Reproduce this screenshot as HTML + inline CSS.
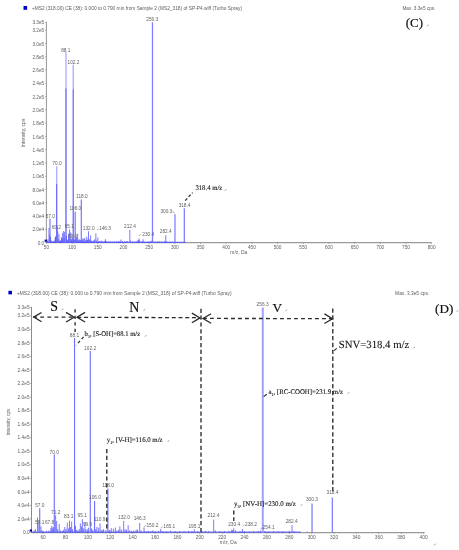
<!DOCTYPE html>
<html><head><meta charset="utf-8"><style>
html,body{margin:0;padding:0;background:#fff;width:459px;height:550px;overflow:hidden}
svg{display:block;will-change:transform}
</style></head><body>
<svg width="459" height="550" viewBox="0 0 459 550">
<rect width="459" height="550" fill="#fff"/>
<rect x="23.5" y="6" width="3.6" height="3.8" fill="#0000cc"/>
<text x="32" y="9.9" font-family="&quot;Liberation Sans&quot;, sans-serif" font-size="4.8" fill="#5e5e5e" textLength="210" lengthAdjust="spacingAndGlyphs">+MS2 (318.00) CE (38): 0.000 to 0.790 min from Sample 2 (MS2_318) of SP-P4.wiff (Turbo Spray)</text>
<text x="402.4" y="10" font-family="&quot;Liberation Sans&quot;, sans-serif" font-size="4.7" fill="#5e5e5e">Max. 3.3e5 cps.</text>
<line x1="46.4" y1="21.8" x2="46.4" y2="243.0" stroke="#8c8c8c" stroke-width="0.9"/>
<line x1="46.4" y1="242.6" x2="431.7" y2="242.6" stroke="#9a9a9a" stroke-width="1.3"/>
<line x1="45.199999999999996" y1="22.25" x2="46.4" y2="22.25" stroke="#777" stroke-width="0.6"/>
<text x="44.199999999999996" y="24.35" font-family="&quot;Liberation Sans&quot;, sans-serif" font-size="4.7" fill="#5e5e5e" text-anchor="end">3.3e5</text>
<line x1="45.199999999999996" y1="30.22" x2="46.4" y2="30.22" stroke="#777" stroke-width="0.6"/>
<text x="44.199999999999996" y="32.32" font-family="&quot;Liberation Sans&quot;, sans-serif" font-size="4.7" fill="#5e5e5e" text-anchor="end">3.2e5</text>
<line x1="45.199999999999996" y1="43.49" x2="46.4" y2="43.49" stroke="#777" stroke-width="0.6"/>
<text x="44.199999999999996" y="45.59" font-family="&quot;Liberation Sans&quot;, sans-serif" font-size="4.7" fill="#5e5e5e" text-anchor="end">3.0e5</text>
<line x1="45.199999999999996" y1="56.76" x2="46.4" y2="56.76" stroke="#777" stroke-width="0.6"/>
<text x="44.199999999999996" y="58.86" font-family="&quot;Liberation Sans&quot;, sans-serif" font-size="4.7" fill="#5e5e5e" text-anchor="end">2.8e5</text>
<line x1="45.199999999999996" y1="70.04" x2="46.4" y2="70.04" stroke="#777" stroke-width="0.6"/>
<text x="44.199999999999996" y="72.14" font-family="&quot;Liberation Sans&quot;, sans-serif" font-size="4.7" fill="#5e5e5e" text-anchor="end">2.6e5</text>
<line x1="45.199999999999996" y1="83.31" x2="46.4" y2="83.31" stroke="#777" stroke-width="0.6"/>
<text x="44.199999999999996" y="85.41" font-family="&quot;Liberation Sans&quot;, sans-serif" font-size="4.7" fill="#5e5e5e" text-anchor="end">2.4e5</text>
<line x1="45.199999999999996" y1="96.59" x2="46.4" y2="96.59" stroke="#777" stroke-width="0.6"/>
<text x="44.199999999999996" y="98.69" font-family="&quot;Liberation Sans&quot;, sans-serif" font-size="4.7" fill="#5e5e5e" text-anchor="end">2.2e5</text>
<line x1="45.199999999999996" y1="109.86" x2="46.4" y2="109.86" stroke="#777" stroke-width="0.6"/>
<text x="44.199999999999996" y="111.96" font-family="&quot;Liberation Sans&quot;, sans-serif" font-size="4.7" fill="#5e5e5e" text-anchor="end">2.0e5</text>
<line x1="45.199999999999996" y1="123.13" x2="46.4" y2="123.13" stroke="#777" stroke-width="0.6"/>
<text x="44.199999999999996" y="125.23" font-family="&quot;Liberation Sans&quot;, sans-serif" font-size="4.7" fill="#5e5e5e" text-anchor="end">1.8e5</text>
<line x1="45.199999999999996" y1="136.41" x2="46.4" y2="136.41" stroke="#777" stroke-width="0.6"/>
<text x="44.199999999999996" y="138.51" font-family="&quot;Liberation Sans&quot;, sans-serif" font-size="4.7" fill="#5e5e5e" text-anchor="end">1.6e5</text>
<line x1="45.199999999999996" y1="149.68" x2="46.4" y2="149.68" stroke="#777" stroke-width="0.6"/>
<text x="44.199999999999996" y="151.78" font-family="&quot;Liberation Sans&quot;, sans-serif" font-size="4.7" fill="#5e5e5e" text-anchor="end">1.4e5</text>
<line x1="45.199999999999996" y1="162.96" x2="46.4" y2="162.96" stroke="#777" stroke-width="0.6"/>
<text x="44.199999999999996" y="165.06" font-family="&quot;Liberation Sans&quot;, sans-serif" font-size="4.7" fill="#5e5e5e" text-anchor="end">1.2e5</text>
<line x1="45.199999999999996" y1="176.23" x2="46.4" y2="176.23" stroke="#777" stroke-width="0.6"/>
<text x="44.199999999999996" y="178.33" font-family="&quot;Liberation Sans&quot;, sans-serif" font-size="4.7" fill="#5e5e5e" text-anchor="end">1.0e5</text>
<line x1="45.199999999999996" y1="189.50" x2="46.4" y2="189.50" stroke="#777" stroke-width="0.6"/>
<text x="44.199999999999996" y="191.60" font-family="&quot;Liberation Sans&quot;, sans-serif" font-size="4.7" fill="#5e5e5e" text-anchor="end">8.0e4</text>
<line x1="45.199999999999996" y1="202.78" x2="46.4" y2="202.78" stroke="#777" stroke-width="0.6"/>
<text x="44.199999999999996" y="204.88" font-family="&quot;Liberation Sans&quot;, sans-serif" font-size="4.7" fill="#5e5e5e" text-anchor="end">6.0e4</text>
<line x1="45.199999999999996" y1="216.05" x2="46.4" y2="216.05" stroke="#777" stroke-width="0.6"/>
<text x="44.199999999999996" y="218.15" font-family="&quot;Liberation Sans&quot;, sans-serif" font-size="4.7" fill="#5e5e5e" text-anchor="end">4.0e4</text>
<line x1="45.199999999999996" y1="229.33" x2="46.4" y2="229.33" stroke="#777" stroke-width="0.6"/>
<text x="44.199999999999996" y="231.43" font-family="&quot;Liberation Sans&quot;, sans-serif" font-size="4.7" fill="#5e5e5e" text-anchor="end">2.0e4</text>
<line x1="45.199999999999996" y1="242.60" x2="46.4" y2="242.60" stroke="#777" stroke-width="0.6"/>
<text x="44.199999999999996" y="244.70" font-family="&quot;Liberation Sans&quot;, sans-serif" font-size="4.7" fill="#5e5e5e" text-anchor="end">0.0</text>
<line x1="46.40" y1="242.6" x2="46.40" y2="243.79999999999998" stroke="#777" stroke-width="0.6"/>
<text x="46.40" y="248.5" font-family="&quot;Liberation Sans&quot;, sans-serif" font-size="4.7" fill="#5e5e5e" text-anchor="middle">50</text>
<line x1="72.09" y1="242.6" x2="72.09" y2="243.79999999999998" stroke="#777" stroke-width="0.6"/>
<text x="72.09" y="248.5" font-family="&quot;Liberation Sans&quot;, sans-serif" font-size="4.7" fill="#5e5e5e" text-anchor="middle">100</text>
<line x1="97.77" y1="242.6" x2="97.77" y2="243.79999999999998" stroke="#777" stroke-width="0.6"/>
<text x="97.77" y="248.5" font-family="&quot;Liberation Sans&quot;, sans-serif" font-size="4.7" fill="#5e5e5e" text-anchor="middle">150</text>
<line x1="123.46" y1="242.6" x2="123.46" y2="243.79999999999998" stroke="#777" stroke-width="0.6"/>
<text x="123.46" y="248.5" font-family="&quot;Liberation Sans&quot;, sans-serif" font-size="4.7" fill="#5e5e5e" text-anchor="middle">200</text>
<line x1="149.14" y1="242.6" x2="149.14" y2="243.79999999999998" stroke="#777" stroke-width="0.6"/>
<text x="149.14" y="248.5" font-family="&quot;Liberation Sans&quot;, sans-serif" font-size="4.7" fill="#5e5e5e" text-anchor="middle">250</text>
<line x1="174.83" y1="242.6" x2="174.83" y2="243.79999999999998" stroke="#777" stroke-width="0.6"/>
<text x="174.83" y="248.5" font-family="&quot;Liberation Sans&quot;, sans-serif" font-size="4.7" fill="#5e5e5e" text-anchor="middle">300</text>
<line x1="200.51" y1="242.6" x2="200.51" y2="243.79999999999998" stroke="#777" stroke-width="0.6"/>
<text x="200.51" y="248.5" font-family="&quot;Liberation Sans&quot;, sans-serif" font-size="4.7" fill="#5e5e5e" text-anchor="middle">350</text>
<line x1="226.20" y1="242.6" x2="226.20" y2="243.79999999999998" stroke="#777" stroke-width="0.6"/>
<text x="226.20" y="248.5" font-family="&quot;Liberation Sans&quot;, sans-serif" font-size="4.7" fill="#5e5e5e" text-anchor="middle">400</text>
<line x1="251.88" y1="242.6" x2="251.88" y2="243.79999999999998" stroke="#777" stroke-width="0.6"/>
<text x="251.88" y="248.5" font-family="&quot;Liberation Sans&quot;, sans-serif" font-size="4.7" fill="#5e5e5e" text-anchor="middle">450</text>
<line x1="277.56" y1="242.6" x2="277.56" y2="243.79999999999998" stroke="#777" stroke-width="0.6"/>
<text x="277.56" y="248.5" font-family="&quot;Liberation Sans&quot;, sans-serif" font-size="4.7" fill="#5e5e5e" text-anchor="middle">500</text>
<line x1="303.25" y1="242.6" x2="303.25" y2="243.79999999999998" stroke="#777" stroke-width="0.6"/>
<text x="303.25" y="248.5" font-family="&quot;Liberation Sans&quot;, sans-serif" font-size="4.7" fill="#5e5e5e" text-anchor="middle">550</text>
<line x1="328.94" y1="242.6" x2="328.94" y2="243.79999999999998" stroke="#777" stroke-width="0.6"/>
<text x="328.94" y="248.5" font-family="&quot;Liberation Sans&quot;, sans-serif" font-size="4.7" fill="#5e5e5e" text-anchor="middle">600</text>
<line x1="354.62" y1="242.6" x2="354.62" y2="243.79999999999998" stroke="#777" stroke-width="0.6"/>
<text x="354.62" y="248.5" font-family="&quot;Liberation Sans&quot;, sans-serif" font-size="4.7" fill="#5e5e5e" text-anchor="middle">650</text>
<line x1="380.31" y1="242.6" x2="380.31" y2="243.79999999999998" stroke="#777" stroke-width="0.6"/>
<text x="380.31" y="248.5" font-family="&quot;Liberation Sans&quot;, sans-serif" font-size="4.7" fill="#5e5e5e" text-anchor="middle">700</text>
<line x1="405.99" y1="242.6" x2="405.99" y2="243.79999999999998" stroke="#777" stroke-width="0.6"/>
<text x="405.99" y="248.5" font-family="&quot;Liberation Sans&quot;, sans-serif" font-size="4.7" fill="#5e5e5e" text-anchor="middle">750</text>
<line x1="431.68" y1="242.6" x2="431.68" y2="243.79999999999998" stroke="#777" stroke-width="0.6"/>
<text x="431.68" y="248.5" font-family="&quot;Liberation Sans&quot;, sans-serif" font-size="4.7" fill="#5e5e5e" text-anchor="middle">800</text>
<text x="238.8" y="253.8" font-family="&quot;Liberation Sans&quot;, sans-serif" font-size="4.9" fill="#5e5e5e" text-anchor="middle">m/z, Da</text>
<text transform="translate(25.2,133) rotate(-90)" font-family="&quot;Liberation Sans&quot;, sans-serif" font-size="5" fill="#5e5e5e" text-anchor="middle">Intensity, cps</text>
<line x1="46.4" y1="242.29999999999998" x2="186" y2="242.29999999999998" stroke="#4848ff" stroke-width="0.9"/>
<line x1="47.43" y1="242.60" x2="47.43" y2="240.61" stroke="#5050ff" stroke-width="0.8"/>
<line x1="47.99" y1="242.60" x2="47.99" y2="239.28" stroke="#5050ff" stroke-width="0.8"/>
<line x1="48.97" y1="242.60" x2="48.97" y2="228.00" stroke="#6b6bff" stroke-width="0.9"/>
<line x1="49.58" y1="242.60" x2="49.58" y2="234.30" stroke="#6b6bff" stroke-width="0.9"/>
<line x1="50.00" y1="242.60" x2="50.00" y2="218.84" stroke="#6b6bff" stroke-width="1.1"/>
<line x1="50.56" y1="242.60" x2="50.56" y2="236.76" stroke="#5050ff" stroke-width="0.8"/>
<line x1="51.02" y1="242.60" x2="51.02" y2="240.28" stroke="#5050ff" stroke-width="0.8"/>
<line x1="51.59" y1="242.60" x2="51.59" y2="241.27" stroke="#5050ff" stroke-width="0.8"/>
<line x1="53.08" y1="242.60" x2="53.08" y2="240.94" stroke="#5050ff" stroke-width="0.8"/>
<line x1="54.16" y1="242.60" x2="54.16" y2="240.61" stroke="#5050ff" stroke-width="0.8"/>
<line x1="55.13" y1="242.60" x2="55.13" y2="237.95" stroke="#5050ff" stroke-width="0.8"/>
<line x1="55.54" y1="242.60" x2="55.54" y2="236.29" stroke="#5050ff" stroke-width="0.8"/>
<line x1="55.95" y1="242.60" x2="55.95" y2="238.62" stroke="#5050ff" stroke-width="0.8"/>
<line x1="56.26" y1="242.60" x2="56.26" y2="237.29" stroke="#5050ff" stroke-width="0.8"/>
<line x1="56.67" y1="184.00" x2="56.67" y2="166.27" stroke="#b0b0ff" stroke-width="1.4"/>
<line x1="56.67" y1="242.60" x2="56.67" y2="184.00" stroke="#7070ff" stroke-width="1.4"/>
<line x1="57.29" y1="242.60" x2="57.29" y2="225.61" stroke="#6b6bff" stroke-width="0.9"/>
<line x1="57.75" y1="242.60" x2="57.75" y2="231.45" stroke="#6b6bff" stroke-width="0.9"/>
<line x1="58.22" y1="242.60" x2="58.22" y2="239.28" stroke="#5050ff" stroke-width="0.8"/>
<line x1="58.93" y1="242.60" x2="58.93" y2="234.30" stroke="#6b6bff" stroke-width="0.9"/>
<line x1="59.50" y1="242.60" x2="59.50" y2="240.61" stroke="#5050ff" stroke-width="0.8"/>
<line x1="60.32" y1="242.60" x2="60.32" y2="240.94" stroke="#5050ff" stroke-width="0.8"/>
<line x1="60.94" y1="242.60" x2="60.94" y2="239.95" stroke="#5050ff" stroke-width="0.8"/>
<line x1="61.50" y1="242.60" x2="61.50" y2="237.29" stroke="#5050ff" stroke-width="0.8"/>
<line x1="62.07" y1="242.60" x2="62.07" y2="239.28" stroke="#5050ff" stroke-width="0.8"/>
<line x1="62.63" y1="242.60" x2="62.63" y2="232.91" stroke="#6b6bff" stroke-width="0.9"/>
<line x1="63.15" y1="242.60" x2="63.15" y2="238.62" stroke="#5050ff" stroke-width="0.8"/>
<line x1="63.66" y1="242.60" x2="63.66" y2="230.99" stroke="#6b6bff" stroke-width="0.9"/>
<line x1="64.12" y1="242.60" x2="64.12" y2="237.29" stroke="#5050ff" stroke-width="0.8"/>
<line x1="64.64" y1="242.60" x2="64.64" y2="231.98" stroke="#6b6bff" stroke-width="0.9"/>
<line x1="65.10" y1="242.60" x2="65.10" y2="239.28" stroke="#5050ff" stroke-width="0.8"/>
<line x1="65.97" y1="88.20" x2="65.97" y2="52.12" stroke="#c4c4ff" stroke-width="1.8"/>
<line x1="65.97" y1="242.60" x2="65.97" y2="88.20" stroke="#8c8cff" stroke-width="1.8"/>
<line x1="66.43" y1="242.60" x2="66.43" y2="235.96" stroke="#5050ff" stroke-width="0.8"/>
<line x1="67.00" y1="242.60" x2="67.00" y2="239.95" stroke="#5050ff" stroke-width="0.8"/>
<line x1="67.56" y1="242.60" x2="67.56" y2="240.61" stroke="#5050ff" stroke-width="0.8"/>
<line x1="68.13" y1="242.60" x2="68.13" y2="239.28" stroke="#5050ff" stroke-width="0.8"/>
<line x1="68.64" y1="242.60" x2="68.64" y2="233.64" stroke="#6b6bff" stroke-width="0.9"/>
<line x1="69.21" y1="242.60" x2="69.21" y2="236.63" stroke="#5050ff" stroke-width="0.8"/>
<line x1="69.57" y1="242.60" x2="69.57" y2="229.46" stroke="#6b6bff" stroke-width="0.9"/>
<line x1="70.13" y1="242.60" x2="70.13" y2="238.62" stroke="#5050ff" stroke-width="0.8"/>
<line x1="70.75" y1="242.60" x2="70.75" y2="232.45" stroke="#6b6bff" stroke-width="0.9"/>
<line x1="71.21" y1="242.60" x2="71.21" y2="239.28" stroke="#5050ff" stroke-width="0.8"/>
<line x1="71.83" y1="242.60" x2="71.83" y2="239.55" stroke="#5050ff" stroke-width="0.8"/>
<line x1="72.34" y1="242.60" x2="72.34" y2="237.95" stroke="#5050ff" stroke-width="0.8"/>
<line x1="73.22" y1="89.20" x2="73.22" y2="64.73" stroke="#a0a0ff" stroke-width="1.2"/>
<line x1="73.22" y1="242.60" x2="73.22" y2="89.20" stroke="#6060ff" stroke-width="1.2"/>
<line x1="73.78" y1="242.60" x2="73.78" y2="238.62" stroke="#5050ff" stroke-width="0.8"/>
<line x1="74.35" y1="242.60" x2="74.35" y2="239.95" stroke="#5050ff" stroke-width="0.8"/>
<line x1="75.17" y1="242.60" x2="75.17" y2="211.80" stroke="#6b6bff" stroke-width="1.1"/>
<line x1="75.73" y1="242.60" x2="75.73" y2="239.28" stroke="#5050ff" stroke-width="0.8"/>
<line x1="76.25" y1="242.60" x2="76.25" y2="237.16" stroke="#5050ff" stroke-width="0.8"/>
<line x1="77.07" y1="242.60" x2="77.07" y2="237.89" stroke="#5050ff" stroke-width="0.8"/>
<line x1="77.68" y1="242.60" x2="77.68" y2="233.64" stroke="#6b6bff" stroke-width="0.9"/>
<line x1="78.25" y1="242.60" x2="78.25" y2="239.95" stroke="#5050ff" stroke-width="0.8"/>
<line x1="78.87" y1="242.60" x2="78.87" y2="240.61" stroke="#5050ff" stroke-width="0.8"/>
<line x1="79.33" y1="242.60" x2="79.33" y2="239.28" stroke="#5050ff" stroke-width="0.8"/>
<line x1="81.28" y1="242.60" x2="81.28" y2="199.39" stroke="#6b6bff" stroke-width="1.1"/>
<line x1="80.41" y1="242.60" x2="80.41" y2="239.95" stroke="#5050ff" stroke-width="0.8"/>
<line x1="81.85" y1="242.60" x2="81.85" y2="240.61" stroke="#5050ff" stroke-width="0.8"/>
<line x1="82.15" y1="242.60" x2="82.15" y2="240.28" stroke="#5050ff" stroke-width="0.8"/>
<line x1="82.82" y1="242.60" x2="82.82" y2="238.35" stroke="#5050ff" stroke-width="0.8"/>
<line x1="83.80" y1="242.60" x2="83.80" y2="238.88" stroke="#5050ff" stroke-width="0.8"/>
<line x1="84.72" y1="242.60" x2="84.72" y2="237.89" stroke="#5050ff" stroke-width="0.8"/>
<line x1="85.44" y1="242.60" x2="85.44" y2="240.61" stroke="#5050ff" stroke-width="0.8"/>
<line x1="86.21" y1="242.60" x2="86.21" y2="239.95" stroke="#5050ff" stroke-width="0.8"/>
<line x1="86.78" y1="242.60" x2="86.78" y2="236.63" stroke="#5050ff" stroke-width="0.8"/>
<line x1="87.50" y1="242.60" x2="87.50" y2="239.75" stroke="#5050ff" stroke-width="0.8"/>
<line x1="88.52" y1="242.60" x2="88.52" y2="231.25" stroke="#6b6bff" stroke-width="0.9"/>
<line x1="89.14" y1="242.60" x2="89.14" y2="239.28" stroke="#5050ff" stroke-width="0.8"/>
<line x1="89.81" y1="242.60" x2="89.81" y2="239.95" stroke="#5050ff" stroke-width="0.8"/>
<line x1="90.58" y1="242.60" x2="90.58" y2="235.37" stroke="#6b6bff" stroke-width="0.9"/>
<line x1="91.25" y1="242.60" x2="91.25" y2="240.61" stroke="#5050ff" stroke-width="0.8"/>
<line x1="92.12" y1="242.60" x2="92.12" y2="240.94" stroke="#5050ff" stroke-width="0.8"/>
<line x1="93.15" y1="242.60" x2="93.15" y2="240.61" stroke="#5050ff" stroke-width="0.8"/>
<line x1="94.23" y1="242.60" x2="94.23" y2="240.28" stroke="#5050ff" stroke-width="0.8"/>
<line x1="94.79" y1="242.60" x2="94.79" y2="239.28" stroke="#5050ff" stroke-width="0.8"/>
<line x1="95.87" y1="242.60" x2="95.87" y2="233.24" stroke="#6b6bff" stroke-width="0.9"/>
<line x1="96.49" y1="242.60" x2="96.49" y2="240.61" stroke="#5050ff" stroke-width="0.8"/>
<line x1="97.87" y1="242.60" x2="97.87" y2="237.49" stroke="#5050ff" stroke-width="0.8"/>
<line x1="98.80" y1="242.60" x2="98.80" y2="241.27" stroke="#5050ff" stroke-width="0.8"/>
<line x1="99.82" y1="242.60" x2="99.82" y2="240.94" stroke="#5050ff" stroke-width="0.8"/>
<line x1="101.01" y1="242.60" x2="101.01" y2="241.27" stroke="#5050ff" stroke-width="0.8"/>
<line x1="101.88" y1="242.60" x2="101.88" y2="240.61" stroke="#5050ff" stroke-width="0.8"/>
<line x1="102.96" y1="242.60" x2="102.96" y2="241.27" stroke="#5050ff" stroke-width="0.8"/>
<line x1="104.45" y1="242.60" x2="104.45" y2="240.94" stroke="#5050ff" stroke-width="0.8"/>
<line x1="105.53" y1="242.60" x2="105.53" y2="239.28" stroke="#5050ff" stroke-width="0.8"/>
<line x1="106.50" y1="242.60" x2="106.50" y2="241.27" stroke="#5050ff" stroke-width="0.8"/>
<line x1="108.04" y1="242.60" x2="108.04" y2="241.27" stroke="#5050ff" stroke-width="0.8"/>
<line x1="110.10" y1="242.60" x2="110.10" y2="240.94" stroke="#5050ff" stroke-width="0.8"/>
<line x1="112.15" y1="242.60" x2="112.15" y2="241.27" stroke="#5050ff" stroke-width="0.8"/>
<line x1="114.21" y1="242.60" x2="114.21" y2="241.27" stroke="#5050ff" stroke-width="0.8"/>
<line x1="116.26" y1="242.60" x2="116.26" y2="241.27" stroke="#5050ff" stroke-width="0.8"/>
<line x1="118.32" y1="242.60" x2="118.32" y2="240.94" stroke="#5050ff" stroke-width="0.8"/>
<line x1="119.86" y1="242.60" x2="119.86" y2="241.27" stroke="#5050ff" stroke-width="0.8"/>
<line x1="120.94" y1="242.60" x2="120.94" y2="239.61" stroke="#5050ff" stroke-width="0.8"/>
<line x1="122.43" y1="242.60" x2="122.43" y2="241.27" stroke="#5050ff" stroke-width="0.8"/>
<line x1="124.48" y1="242.60" x2="124.48" y2="241.27" stroke="#5050ff" stroke-width="0.8"/>
<line x1="126.02" y1="242.60" x2="126.02" y2="240.94" stroke="#5050ff" stroke-width="0.8"/>
<line x1="127.56" y1="242.60" x2="127.56" y2="241.27" stroke="#5050ff" stroke-width="0.8"/>
<line x1="129.82" y1="242.60" x2="129.82" y2="229.99" stroke="#6b6bff" stroke-width="0.9"/>
<line x1="130.65" y1="242.60" x2="130.65" y2="240.61" stroke="#5050ff" stroke-width="0.8"/>
<line x1="132.70" y1="242.60" x2="132.70" y2="241.27" stroke="#5050ff" stroke-width="0.8"/>
<line x1="134.76" y1="242.60" x2="134.76" y2="241.27" stroke="#5050ff" stroke-width="0.8"/>
<line x1="136.81" y1="242.60" x2="136.81" y2="240.94" stroke="#5050ff" stroke-width="0.8"/>
<line x1="138.10" y1="242.60" x2="138.10" y2="239.95" stroke="#5050ff" stroke-width="0.8"/>
<line x1="138.51" y1="242.60" x2="138.51" y2="240.28" stroke="#5050ff" stroke-width="0.8"/>
<line x1="139.07" y1="242.60" x2="139.07" y2="238.49" stroke="#5050ff" stroke-width="0.8"/>
<line x1="139.89" y1="242.60" x2="139.89" y2="240.61" stroke="#5050ff" stroke-width="0.8"/>
<line x1="141.95" y1="242.60" x2="141.95" y2="241.27" stroke="#5050ff" stroke-width="0.8"/>
<line x1="143.08" y1="242.60" x2="143.08" y2="239.28" stroke="#5050ff" stroke-width="0.8"/>
<line x1="144.00" y1="242.60" x2="144.00" y2="241.27" stroke="#5050ff" stroke-width="0.8"/>
<line x1="146.06" y1="242.60" x2="146.06" y2="241.60" stroke="#5050ff" stroke-width="0.8"/>
<line x1="148.11" y1="242.60" x2="148.11" y2="241.27" stroke="#5050ff" stroke-width="0.8"/>
<line x1="150.17" y1="242.60" x2="150.17" y2="241.27" stroke="#5050ff" stroke-width="0.8"/>
<line x1="151.25" y1="242.60" x2="151.25" y2="240.81" stroke="#5050ff" stroke-width="0.8"/>
<line x1="152.48" y1="242.60" x2="152.48" y2="22.25" stroke="#7c7cff" stroke-width="1.25"/>
<line x1="153.25" y1="242.60" x2="153.25" y2="241.27" stroke="#5050ff" stroke-width="0.8"/>
<line x1="155.30" y1="242.60" x2="155.30" y2="241.60" stroke="#5050ff" stroke-width="0.8"/>
<line x1="157.36" y1="242.60" x2="157.36" y2="241.27" stroke="#5050ff" stroke-width="0.8"/>
<line x1="159.41" y1="242.60" x2="159.41" y2="241.27" stroke="#5050ff" stroke-width="0.8"/>
<line x1="161.47" y1="242.60" x2="161.47" y2="241.27" stroke="#5050ff" stroke-width="0.8"/>
<line x1="164.55" y1="242.60" x2="164.55" y2="240.94" stroke="#5050ff" stroke-width="0.8"/>
<line x1="165.78" y1="242.60" x2="165.78" y2="235.30" stroke="#6b6bff" stroke-width="0.9"/>
<line x1="166.61" y1="242.60" x2="166.61" y2="241.27" stroke="#5050ff" stroke-width="0.8"/>
<line x1="169.69" y1="242.60" x2="169.69" y2="241.60" stroke="#5050ff" stroke-width="0.8"/>
<line x1="172.77" y1="242.60" x2="172.77" y2="241.60" stroke="#5050ff" stroke-width="0.8"/>
<line x1="174.98" y1="242.60" x2="174.98" y2="214.19" stroke="#6b6bff" stroke-width="1.1"/>
<line x1="184.28" y1="242.60" x2="184.28" y2="208.29" stroke="#6b6bff" stroke-width="1.1"/>
<rect x="44.6" y="239.6" width="2.2" height="2.2" fill="#0000aa"/>
<text x="152.2" y="20.6" font-family="&quot;Liberation Sans&quot;, sans-serif" font-size="4.7" fill="#5e5e5e" text-anchor="middle">256.3</text>
<text x="65.7" y="51.6" font-family="&quot;Liberation Sans&quot;, sans-serif" font-size="4.7" fill="#5e5e5e" text-anchor="middle">88.1</text>
<text x="73.4" y="63.6" font-family="&quot;Liberation Sans&quot;, sans-serif" font-size="4.7" fill="#5e5e5e" text-anchor="middle">102.2</text>
<text x="57.0" y="165.3" font-family="&quot;Liberation Sans&quot;, sans-serif" font-size="4.7" fill="#5e5e5e" text-anchor="middle">70.0</text>
<text x="81.9" y="197.9" font-family="&quot;Liberation Sans&quot;, sans-serif" font-size="4.7" fill="#5e5e5e" text-anchor="middle">118.0</text>
<text x="75.3" y="210.3" font-family="&quot;Liberation Sans&quot;, sans-serif" font-size="4.7" fill="#5e5e5e" text-anchor="middle">106.0</text>
<text x="50.2" y="217.7" font-family="&quot;Liberation Sans&quot;, sans-serif" font-size="4.7" fill="#5e5e5e" text-anchor="middle">57.0</text>
<text x="56.3" y="228.8" font-family="&quot;Liberation Sans&quot;, sans-serif" font-size="4.7" fill="#5e5e5e" text-anchor="middle">69.2</text>
<text x="69.3" y="227.8" font-family="&quot;Liberation Sans&quot;, sans-serif" font-size="4.7" fill="#5e5e5e" text-anchor="middle">95.1</text>
<text x="72.5" y="238.4" font-family="&quot;Liberation Sans&quot;, sans-serif" font-size="4.7" fill="#5e5e5e" text-anchor="middle">89.0</text>
<text x="88.7" y="229.8" font-family="&quot;Liberation Sans&quot;, sans-serif" font-size="4.7" fill="#5e5e5e" text-anchor="middle">132.0</text>
<text x="105.0" y="230.3" font-family="&quot;Liberation Sans&quot;, sans-serif" font-size="4.7" fill="#5e5e5e" text-anchor="middle">146.3</text>
<text x="129.9" y="227.9" font-family="&quot;Liberation Sans&quot;, sans-serif" font-size="4.7" fill="#5e5e5e" text-anchor="middle">212.4</text>
<text x="148.2" y="236.3" font-family="&quot;Liberation Sans&quot;, sans-serif" font-size="4.7" fill="#5e5e5e" text-anchor="middle">230.4</text>
<text x="165.7" y="233.0" font-family="&quot;Liberation Sans&quot;, sans-serif" font-size="4.7" fill="#5e5e5e" text-anchor="middle">282.4</text>
<text x="166.3" y="212.6" font-family="&quot;Liberation Sans&quot;, sans-serif" font-size="4.7" fill="#5e5e5e" text-anchor="middle">300.3</text>
<text x="184.5" y="206.5" font-family="&quot;Liberation Sans&quot;, sans-serif" font-size="4.7" fill="#5e5e5e" text-anchor="middle">318.4</text>
<path d="M97.30,230.20 L97.90,229.00 L98.90,228.60" fill="none" stroke="#5e5e5e" stroke-width="0.45"/>
<path d="M139.30,236.00 L139.90,234.80 L140.90,234.40" fill="none" stroke="#5e5e5e" stroke-width="0.45"/>
<path d="M172.4,211.5 Q173.9,211.6 174.3,213.3" fill="none" stroke="#5e5e5e" stroke-width="0.45"/>
<line x1="185.2" y1="200.6" x2="192.6" y2="192.6" stroke="#2a2a2a" stroke-width="1.2" stroke-dasharray="3 2"/>
<text transform="translate(195.4,190) scale(0.96,1)" font-family="&quot;Liberation Serif&quot;, serif" font-size="7.0" fill="#151515" stroke="#151515" stroke-width="0.12" text-rendering="geometricPrecision">318.4 m/z</text>
<text x="405.8" y="27" font-family="&quot;Liberation Serif&quot;, serif" font-size="12.9" fill="#111" stroke="#111" stroke-width="0.2">(C)</text>
<rect x="8.4" y="290.8" width="3.6" height="3.6" fill="#0000cc"/>
<text x="16.9" y="294.9" font-family="&quot;Liberation Sans&quot;, sans-serif" font-size="4.9" fill="#5e5e5e" textLength="214.8" lengthAdjust="spacingAndGlyphs">+MS2 (318.00) CE (38): 0.000 to 0.790 min from Sample 2 (MS2_318) of SP-P4.wiff (Turbo Spray)</text>
<text x="395.1" y="295" font-family="&quot;Liberation Sans&quot;, sans-serif" font-size="4.85" fill="#5e5e5e">Max. 3.3e5 cps.</text>
<line x1="31.5" y1="307" x2="31.5" y2="533.0" stroke="#8c8c8c" stroke-width="1"/>
<line x1="31.5" y1="532.7" x2="424.6" y2="532.7" stroke="#9a9a9a" stroke-width="1.3"/>
<line x1="30.2" y1="307.64" x2="31.2" y2="307.64" stroke="#666" stroke-width="0.6"/>
<text x="29.6" y="309.29" font-family="&quot;Liberation Sans&quot;, sans-serif" font-size="4.8" fill="#5e5e5e" text-anchor="end">3.3e5</text>
<line x1="30.2" y1="315.76" x2="31.2" y2="315.76" stroke="#666" stroke-width="0.6"/>
<text x="29.6" y="317.41" font-family="&quot;Liberation Sans&quot;, sans-serif" font-size="4.8" fill="#5e5e5e" text-anchor="end">3.2e5</text>
<line x1="30.2" y1="329.31" x2="31.2" y2="329.31" stroke="#666" stroke-width="0.6"/>
<text x="29.6" y="330.96" font-family="&quot;Liberation Sans&quot;, sans-serif" font-size="4.8" fill="#5e5e5e" text-anchor="end">3.0e5</text>
<line x1="30.2" y1="342.86" x2="31.2" y2="342.86" stroke="#666" stroke-width="0.6"/>
<text x="29.6" y="344.51" font-family="&quot;Liberation Sans&quot;, sans-serif" font-size="4.8" fill="#5e5e5e" text-anchor="end">2.8e5</text>
<line x1="30.2" y1="356.40" x2="31.2" y2="356.40" stroke="#666" stroke-width="0.6"/>
<text x="29.6" y="358.05" font-family="&quot;Liberation Sans&quot;, sans-serif" font-size="4.8" fill="#5e5e5e" text-anchor="end">2.6e5</text>
<line x1="30.2" y1="369.95" x2="31.2" y2="369.95" stroke="#666" stroke-width="0.6"/>
<text x="29.6" y="371.60" font-family="&quot;Liberation Sans&quot;, sans-serif" font-size="4.8" fill="#5e5e5e" text-anchor="end">2.4e5</text>
<line x1="30.2" y1="383.49" x2="31.2" y2="383.49" stroke="#666" stroke-width="0.6"/>
<text x="29.6" y="385.14" font-family="&quot;Liberation Sans&quot;, sans-serif" font-size="4.8" fill="#5e5e5e" text-anchor="end">2.2e5</text>
<line x1="30.2" y1="397.04" x2="31.2" y2="397.04" stroke="#666" stroke-width="0.6"/>
<text x="29.6" y="398.69" font-family="&quot;Liberation Sans&quot;, sans-serif" font-size="4.8" fill="#5e5e5e" text-anchor="end">2.0e5</text>
<line x1="30.2" y1="410.59" x2="31.2" y2="410.59" stroke="#666" stroke-width="0.6"/>
<text x="29.6" y="412.24" font-family="&quot;Liberation Sans&quot;, sans-serif" font-size="4.8" fill="#5e5e5e" text-anchor="end">1.8e5</text>
<line x1="30.2" y1="424.13" x2="31.2" y2="424.13" stroke="#666" stroke-width="0.6"/>
<text x="29.6" y="425.78" font-family="&quot;Liberation Sans&quot;, sans-serif" font-size="4.8" fill="#5e5e5e" text-anchor="end">1.6e5</text>
<line x1="30.2" y1="437.68" x2="31.2" y2="437.68" stroke="#666" stroke-width="0.6"/>
<text x="29.6" y="439.33" font-family="&quot;Liberation Sans&quot;, sans-serif" font-size="4.8" fill="#5e5e5e" text-anchor="end">1.4e5</text>
<line x1="30.2" y1="451.22" x2="31.2" y2="451.22" stroke="#666" stroke-width="0.6"/>
<text x="29.6" y="452.87" font-family="&quot;Liberation Sans&quot;, sans-serif" font-size="4.8" fill="#5e5e5e" text-anchor="end">1.2e5</text>
<line x1="30.2" y1="464.77" x2="31.2" y2="464.77" stroke="#666" stroke-width="0.6"/>
<text x="29.6" y="466.42" font-family="&quot;Liberation Sans&quot;, sans-serif" font-size="4.8" fill="#5e5e5e" text-anchor="end">1.0e5</text>
<line x1="30.2" y1="478.32" x2="31.2" y2="478.32" stroke="#666" stroke-width="0.6"/>
<text x="29.6" y="479.97" font-family="&quot;Liberation Sans&quot;, sans-serif" font-size="4.8" fill="#5e5e5e" text-anchor="end">8.0e4</text>
<line x1="30.2" y1="491.86" x2="31.2" y2="491.86" stroke="#666" stroke-width="0.6"/>
<text x="29.6" y="493.51" font-family="&quot;Liberation Sans&quot;, sans-serif" font-size="4.8" fill="#5e5e5e" text-anchor="end">6.0e4</text>
<line x1="30.2" y1="505.41" x2="31.2" y2="505.41" stroke="#666" stroke-width="0.6"/>
<text x="29.6" y="507.06" font-family="&quot;Liberation Sans&quot;, sans-serif" font-size="4.8" fill="#5e5e5e" text-anchor="end">4.0e4</text>
<line x1="30.2" y1="518.95" x2="31.2" y2="518.95" stroke="#666" stroke-width="0.6"/>
<text x="29.6" y="520.60" font-family="&quot;Liberation Sans&quot;, sans-serif" font-size="4.8" fill="#5e5e5e" text-anchor="end">2.0e4</text>
<line x1="30.2" y1="532.50" x2="31.2" y2="532.50" stroke="#666" stroke-width="0.6"/>
<text x="29.6" y="534.15" font-family="&quot;Liberation Sans&quot;, sans-serif" font-size="4.8" fill="#5e5e5e" text-anchor="end">0.0</text>
<line x1="43.09" y1="532.5" x2="43.09" y2="533.8" stroke="#777" stroke-width="0.6"/>
<text x="43.09" y="538.8" font-family="&quot;Liberation Sans&quot;, sans-serif" font-size="4.8" fill="#5e5e5e" text-anchor="middle">60</text>
<line x1="65.48" y1="532.5" x2="65.48" y2="533.8" stroke="#777" stroke-width="0.6"/>
<text x="65.48" y="538.8" font-family="&quot;Liberation Sans&quot;, sans-serif" font-size="4.8" fill="#5e5e5e" text-anchor="middle">80</text>
<line x1="87.86" y1="532.5" x2="87.86" y2="533.8" stroke="#777" stroke-width="0.6"/>
<text x="87.86" y="538.8" font-family="&quot;Liberation Sans&quot;, sans-serif" font-size="4.8" fill="#5e5e5e" text-anchor="middle">100</text>
<line x1="110.24" y1="532.5" x2="110.24" y2="533.8" stroke="#777" stroke-width="0.6"/>
<text x="110.24" y="538.8" font-family="&quot;Liberation Sans&quot;, sans-serif" font-size="4.8" fill="#5e5e5e" text-anchor="middle">120</text>
<line x1="132.63" y1="532.5" x2="132.63" y2="533.8" stroke="#777" stroke-width="0.6"/>
<text x="132.63" y="538.8" font-family="&quot;Liberation Sans&quot;, sans-serif" font-size="4.8" fill="#5e5e5e" text-anchor="middle">140</text>
<line x1="155.01" y1="532.5" x2="155.01" y2="533.8" stroke="#777" stroke-width="0.6"/>
<text x="155.01" y="538.8" font-family="&quot;Liberation Sans&quot;, sans-serif" font-size="4.8" fill="#5e5e5e" text-anchor="middle">160</text>
<line x1="177.40" y1="532.5" x2="177.40" y2="533.8" stroke="#777" stroke-width="0.6"/>
<text x="177.40" y="538.8" font-family="&quot;Liberation Sans&quot;, sans-serif" font-size="4.8" fill="#5e5e5e" text-anchor="middle">180</text>
<line x1="199.78" y1="532.5" x2="199.78" y2="533.8" stroke="#777" stroke-width="0.6"/>
<text x="199.78" y="538.8" font-family="&quot;Liberation Sans&quot;, sans-serif" font-size="4.8" fill="#5e5e5e" text-anchor="middle">200</text>
<line x1="222.16" y1="532.5" x2="222.16" y2="533.8" stroke="#777" stroke-width="0.6"/>
<text x="222.16" y="538.8" font-family="&quot;Liberation Sans&quot;, sans-serif" font-size="4.8" fill="#5e5e5e" text-anchor="middle">220</text>
<line x1="244.55" y1="532.5" x2="244.55" y2="533.8" stroke="#777" stroke-width="0.6"/>
<text x="244.55" y="538.8" font-family="&quot;Liberation Sans&quot;, sans-serif" font-size="4.8" fill="#5e5e5e" text-anchor="middle">240</text>
<line x1="266.93" y1="532.5" x2="266.93" y2="533.8" stroke="#777" stroke-width="0.6"/>
<text x="266.93" y="538.8" font-family="&quot;Liberation Sans&quot;, sans-serif" font-size="4.8" fill="#5e5e5e" text-anchor="middle">260</text>
<line x1="289.32" y1="532.5" x2="289.32" y2="533.8" stroke="#777" stroke-width="0.6"/>
<text x="289.32" y="538.8" font-family="&quot;Liberation Sans&quot;, sans-serif" font-size="4.8" fill="#5e5e5e" text-anchor="middle">280</text>
<line x1="311.70" y1="532.5" x2="311.70" y2="533.8" stroke="#777" stroke-width="0.6"/>
<text x="311.70" y="538.8" font-family="&quot;Liberation Sans&quot;, sans-serif" font-size="4.8" fill="#5e5e5e" text-anchor="middle">300</text>
<line x1="334.08" y1="532.5" x2="334.08" y2="533.8" stroke="#777" stroke-width="0.6"/>
<text x="334.08" y="538.8" font-family="&quot;Liberation Sans&quot;, sans-serif" font-size="4.8" fill="#5e5e5e" text-anchor="middle">320</text>
<line x1="356.47" y1="532.5" x2="356.47" y2="533.8" stroke="#777" stroke-width="0.6"/>
<text x="356.47" y="538.8" font-family="&quot;Liberation Sans&quot;, sans-serif" font-size="4.8" fill="#5e5e5e" text-anchor="middle">340</text>
<line x1="378.85" y1="532.5" x2="378.85" y2="533.8" stroke="#777" stroke-width="0.6"/>
<text x="378.85" y="538.8" font-family="&quot;Liberation Sans&quot;, sans-serif" font-size="4.8" fill="#5e5e5e" text-anchor="middle">360</text>
<line x1="401.24" y1="532.5" x2="401.24" y2="533.8" stroke="#777" stroke-width="0.6"/>
<text x="401.24" y="538.8" font-family="&quot;Liberation Sans&quot;, sans-serif" font-size="4.8" fill="#5e5e5e" text-anchor="middle">380</text>
<line x1="423.62" y1="532.5" x2="423.62" y2="533.8" stroke="#777" stroke-width="0.6"/>
<text x="423.62" y="538.8" font-family="&quot;Liberation Sans&quot;, sans-serif" font-size="4.8" fill="#5e5e5e" text-anchor="middle">400</text>
<text x="228.2" y="544.3" font-family="&quot;Liberation Sans&quot;, sans-serif" font-size="4.9" fill="#5e5e5e" text-anchor="middle">m/z, Da</text>
<text transform="translate(10.2,422) rotate(-90)" font-family="&quot;Liberation Sans&quot;, sans-serif" font-size="4.6" fill="#5e5e5e" text-anchor="middle">Intensity, cps</text>
<line x1="31.5" y1="532.1" x2="300" y2="532.1" stroke="#4848ff" stroke-width="0.9"/>
<line x1="34.14" y1="532.50" x2="34.14" y2="530.47" stroke="#5050ff" stroke-width="0.8"/>
<line x1="35.37" y1="532.50" x2="35.37" y2="529.11" stroke="#5050ff" stroke-width="0.8"/>
<line x1="37.50" y1="532.50" x2="37.50" y2="517.60" stroke="#6b6bff" stroke-width="0.9"/>
<line x1="38.84" y1="532.50" x2="38.84" y2="524.03" stroke="#6b6bff" stroke-width="0.9"/>
<line x1="39.73" y1="532.50" x2="39.73" y2="508.25" stroke="#6b6bff" stroke-width="1.1"/>
<line x1="40.97" y1="532.50" x2="40.97" y2="526.54" stroke="#5050ff" stroke-width="0.8"/>
<line x1="41.97" y1="532.50" x2="41.97" y2="530.13" stroke="#5050ff" stroke-width="0.8"/>
<line x1="43.20" y1="532.50" x2="43.20" y2="531.15" stroke="#5050ff" stroke-width="0.8"/>
<line x1="46.45" y1="532.50" x2="46.45" y2="530.81" stroke="#5050ff" stroke-width="0.8"/>
<line x1="48.80" y1="532.50" x2="48.80" y2="530.47" stroke="#5050ff" stroke-width="0.8"/>
<line x1="50.93" y1="532.50" x2="50.93" y2="527.76" stroke="#5050ff" stroke-width="0.8"/>
<line x1="51.82" y1="532.50" x2="51.82" y2="526.07" stroke="#5050ff" stroke-width="0.8"/>
<line x1="52.72" y1="532.50" x2="52.72" y2="528.44" stroke="#5050ff" stroke-width="0.8"/>
<line x1="53.39" y1="532.50" x2="53.39" y2="527.08" stroke="#5050ff" stroke-width="0.8"/>
<line x1="54.28" y1="532.50" x2="54.28" y2="454.61" stroke="#6b6bff" stroke-width="1.1"/>
<line x1="55.63" y1="532.50" x2="55.63" y2="515.16" stroke="#6b6bff" stroke-width="0.9"/>
<line x1="56.63" y1="532.50" x2="56.63" y2="521.12" stroke="#6b6bff" stroke-width="0.9"/>
<line x1="57.64" y1="532.50" x2="57.64" y2="529.11" stroke="#5050ff" stroke-width="0.8"/>
<line x1="59.21" y1="532.50" x2="59.21" y2="524.03" stroke="#6b6bff" stroke-width="0.9"/>
<line x1="60.44" y1="532.50" x2="60.44" y2="530.47" stroke="#5050ff" stroke-width="0.8"/>
<line x1="62.23" y1="532.50" x2="62.23" y2="530.81" stroke="#5050ff" stroke-width="0.8"/>
<line x1="63.57" y1="532.50" x2="63.57" y2="529.79" stroke="#5050ff" stroke-width="0.8"/>
<line x1="64.80" y1="532.50" x2="64.80" y2="527.08" stroke="#5050ff" stroke-width="0.8"/>
<line x1="66.04" y1="532.50" x2="66.04" y2="529.11" stroke="#5050ff" stroke-width="0.8"/>
<line x1="67.27" y1="532.50" x2="67.27" y2="522.61" stroke="#6b6bff" stroke-width="0.9"/>
<line x1="68.39" y1="532.50" x2="68.39" y2="528.44" stroke="#5050ff" stroke-width="0.8"/>
<line x1="69.51" y1="532.50" x2="69.51" y2="520.65" stroke="#6b6bff" stroke-width="0.9"/>
<line x1="70.51" y1="532.50" x2="70.51" y2="527.08" stroke="#5050ff" stroke-width="0.8"/>
<line x1="71.63" y1="532.50" x2="71.63" y2="521.66" stroke="#6b6bff" stroke-width="0.9"/>
<line x1="72.64" y1="532.50" x2="72.64" y2="529.11" stroke="#5050ff" stroke-width="0.8"/>
<line x1="74.54" y1="532.50" x2="74.54" y2="338.11" stroke="#7070ff" stroke-width="1.1"/>
<line x1="75.55" y1="532.50" x2="75.55" y2="525.73" stroke="#5050ff" stroke-width="0.8"/>
<line x1="76.78" y1="532.50" x2="76.78" y2="529.79" stroke="#5050ff" stroke-width="0.8"/>
<line x1="78.01" y1="532.50" x2="78.01" y2="530.47" stroke="#5050ff" stroke-width="0.8"/>
<line x1="79.24" y1="532.50" x2="79.24" y2="529.11" stroke="#5050ff" stroke-width="0.8"/>
<line x1="80.36" y1="532.50" x2="80.36" y2="523.36" stroke="#6b6bff" stroke-width="0.9"/>
<line x1="81.59" y1="532.50" x2="81.59" y2="526.40" stroke="#5050ff" stroke-width="0.8"/>
<line x1="82.38" y1="532.50" x2="82.38" y2="519.09" stroke="#6b6bff" stroke-width="0.9"/>
<line x1="83.61" y1="532.50" x2="83.61" y2="528.44" stroke="#5050ff" stroke-width="0.8"/>
<line x1="84.95" y1="532.50" x2="84.95" y2="522.14" stroke="#6b6bff" stroke-width="0.9"/>
<line x1="85.96" y1="532.50" x2="85.96" y2="529.11" stroke="#5050ff" stroke-width="0.8"/>
<line x1="87.30" y1="532.50" x2="87.30" y2="529.38" stroke="#5050ff" stroke-width="0.8"/>
<line x1="88.42" y1="532.50" x2="88.42" y2="527.76" stroke="#5050ff" stroke-width="0.8"/>
<line x1="90.32" y1="532.50" x2="90.32" y2="350.98" stroke="#8080ff" stroke-width="1.3"/>
<line x1="91.55" y1="532.50" x2="91.55" y2="528.44" stroke="#5050ff" stroke-width="0.8"/>
<line x1="92.78" y1="532.50" x2="92.78" y2="529.79" stroke="#5050ff" stroke-width="0.8"/>
<line x1="94.58" y1="532.50" x2="94.58" y2="501.07" stroke="#6b6bff" stroke-width="1.1"/>
<line x1="95.81" y1="532.50" x2="95.81" y2="529.11" stroke="#5050ff" stroke-width="0.8"/>
<line x1="96.93" y1="532.50" x2="96.93" y2="526.95" stroke="#5050ff" stroke-width="0.8"/>
<line x1="98.72" y1="532.50" x2="98.72" y2="527.69" stroke="#5050ff" stroke-width="0.8"/>
<line x1="100.06" y1="532.50" x2="100.06" y2="523.36" stroke="#6b6bff" stroke-width="0.9"/>
<line x1="101.29" y1="532.50" x2="101.29" y2="529.79" stroke="#5050ff" stroke-width="0.8"/>
<line x1="102.63" y1="532.50" x2="102.63" y2="530.47" stroke="#5050ff" stroke-width="0.8"/>
<line x1="103.64" y1="532.50" x2="103.64" y2="529.11" stroke="#5050ff" stroke-width="0.8"/>
<line x1="107.89" y1="532.50" x2="107.89" y2="488.41" stroke="#6b6bff" stroke-width="1.1"/>
<line x1="105.99" y1="532.50" x2="105.99" y2="529.79" stroke="#5050ff" stroke-width="0.8"/>
<line x1="109.12" y1="532.50" x2="109.12" y2="530.47" stroke="#5050ff" stroke-width="0.8"/>
<line x1="109.80" y1="532.50" x2="109.80" y2="530.13" stroke="#5050ff" stroke-width="0.8"/>
<line x1="111.25" y1="532.50" x2="111.25" y2="528.17" stroke="#5050ff" stroke-width="0.8"/>
<line x1="113.38" y1="532.50" x2="113.38" y2="528.71" stroke="#5050ff" stroke-width="0.8"/>
<line x1="115.39" y1="532.50" x2="115.39" y2="527.69" stroke="#5050ff" stroke-width="0.8"/>
<line x1="116.96" y1="532.50" x2="116.96" y2="530.47" stroke="#5050ff" stroke-width="0.8"/>
<line x1="118.64" y1="532.50" x2="118.64" y2="529.79" stroke="#5050ff" stroke-width="0.8"/>
<line x1="119.87" y1="532.50" x2="119.87" y2="526.40" stroke="#5050ff" stroke-width="0.8"/>
<line x1="121.44" y1="532.50" x2="121.44" y2="529.59" stroke="#5050ff" stroke-width="0.8"/>
<line x1="123.67" y1="532.50" x2="123.67" y2="520.92" stroke="#6b6bff" stroke-width="0.9"/>
<line x1="125.02" y1="532.50" x2="125.02" y2="529.11" stroke="#5050ff" stroke-width="0.8"/>
<line x1="126.47" y1="532.50" x2="126.47" y2="529.79" stroke="#5050ff" stroke-width="0.8"/>
<line x1="128.15" y1="532.50" x2="128.15" y2="525.12" stroke="#6b6bff" stroke-width="0.9"/>
<line x1="129.61" y1="532.50" x2="129.61" y2="530.47" stroke="#5050ff" stroke-width="0.8"/>
<line x1="131.51" y1="532.50" x2="131.51" y2="530.81" stroke="#5050ff" stroke-width="0.8"/>
<line x1="133.75" y1="532.50" x2="133.75" y2="530.47" stroke="#5050ff" stroke-width="0.8"/>
<line x1="136.10" y1="532.50" x2="136.10" y2="530.13" stroke="#5050ff" stroke-width="0.8"/>
<line x1="137.33" y1="532.50" x2="137.33" y2="529.11" stroke="#5050ff" stroke-width="0.8"/>
<line x1="139.68" y1="532.50" x2="139.68" y2="522.95" stroke="#6b6bff" stroke-width="0.9"/>
<line x1="141.02" y1="532.50" x2="141.02" y2="530.47" stroke="#5050ff" stroke-width="0.8"/>
<line x1="144.04" y1="532.50" x2="144.04" y2="527.28" stroke="#5050ff" stroke-width="0.8"/>
<line x1="146.06" y1="532.50" x2="146.06" y2="531.15" stroke="#5050ff" stroke-width="0.8"/>
<line x1="148.30" y1="532.50" x2="148.30" y2="530.81" stroke="#5050ff" stroke-width="0.8"/>
<line x1="150.87" y1="532.50" x2="150.87" y2="531.15" stroke="#5050ff" stroke-width="0.8"/>
<line x1="152.77" y1="532.50" x2="152.77" y2="530.47" stroke="#5050ff" stroke-width="0.8"/>
<line x1="155.12" y1="532.50" x2="155.12" y2="531.15" stroke="#5050ff" stroke-width="0.8"/>
<line x1="158.37" y1="532.50" x2="158.37" y2="530.81" stroke="#5050ff" stroke-width="0.8"/>
<line x1="160.72" y1="532.50" x2="160.72" y2="529.11" stroke="#5050ff" stroke-width="0.8"/>
<line x1="162.85" y1="532.50" x2="162.85" y2="531.15" stroke="#5050ff" stroke-width="0.8"/>
<line x1="166.20" y1="532.50" x2="166.20" y2="531.15" stroke="#5050ff" stroke-width="0.8"/>
<line x1="170.68" y1="532.50" x2="170.68" y2="530.81" stroke="#5050ff" stroke-width="0.8"/>
<line x1="175.16" y1="532.50" x2="175.16" y2="531.15" stroke="#5050ff" stroke-width="0.8"/>
<line x1="179.63" y1="532.50" x2="179.63" y2="531.15" stroke="#5050ff" stroke-width="0.8"/>
<line x1="184.11" y1="532.50" x2="184.11" y2="531.15" stroke="#5050ff" stroke-width="0.8"/>
<line x1="188.59" y1="532.50" x2="188.59" y2="530.81" stroke="#5050ff" stroke-width="0.8"/>
<line x1="191.95" y1="532.50" x2="191.95" y2="531.15" stroke="#5050ff" stroke-width="0.8"/>
<line x1="194.30" y1="532.50" x2="194.30" y2="529.45" stroke="#5050ff" stroke-width="0.8"/>
<line x1="197.54" y1="532.50" x2="197.54" y2="531.15" stroke="#5050ff" stroke-width="0.8"/>
<line x1="202.02" y1="532.50" x2="202.02" y2="531.15" stroke="#5050ff" stroke-width="0.8"/>
<line x1="205.38" y1="532.50" x2="205.38" y2="530.81" stroke="#5050ff" stroke-width="0.8"/>
<line x1="208.73" y1="532.50" x2="208.73" y2="531.15" stroke="#5050ff" stroke-width="0.8"/>
<line x1="213.66" y1="532.50" x2="213.66" y2="519.63" stroke="#6b6bff" stroke-width="0.9"/>
<line x1="215.45" y1="532.50" x2="215.45" y2="530.47" stroke="#5050ff" stroke-width="0.8"/>
<line x1="219.93" y1="532.50" x2="219.93" y2="531.15" stroke="#5050ff" stroke-width="0.8"/>
<line x1="224.40" y1="532.50" x2="224.40" y2="531.15" stroke="#5050ff" stroke-width="0.8"/>
<line x1="228.88" y1="532.50" x2="228.88" y2="530.81" stroke="#5050ff" stroke-width="0.8"/>
<line x1="231.68" y1="532.50" x2="231.68" y2="529.79" stroke="#5050ff" stroke-width="0.8"/>
<line x1="232.57" y1="532.50" x2="232.57" y2="530.13" stroke="#5050ff" stroke-width="0.8"/>
<line x1="233.80" y1="532.50" x2="233.80" y2="528.30" stroke="#5050ff" stroke-width="0.8"/>
<line x1="235.59" y1="532.50" x2="235.59" y2="530.47" stroke="#5050ff" stroke-width="0.8"/>
<line x1="240.07" y1="532.50" x2="240.07" y2="531.15" stroke="#5050ff" stroke-width="0.8"/>
<line x1="242.53" y1="532.50" x2="242.53" y2="529.11" stroke="#5050ff" stroke-width="0.8"/>
<line x1="244.55" y1="532.50" x2="244.55" y2="531.15" stroke="#5050ff" stroke-width="0.8"/>
<line x1="249.02" y1="532.50" x2="249.02" y2="531.48" stroke="#5050ff" stroke-width="0.8"/>
<line x1="253.50" y1="532.50" x2="253.50" y2="531.15" stroke="#5050ff" stroke-width="0.8"/>
<line x1="257.98" y1="532.50" x2="257.98" y2="531.15" stroke="#5050ff" stroke-width="0.8"/>
<line x1="260.33" y1="532.50" x2="260.33" y2="530.67" stroke="#5050ff" stroke-width="0.8"/>
<line x1="262.79" y1="532.50" x2="262.79" y2="307.64" stroke="#a0a0ff" stroke-width="2.0"/>
<line x1="264.69" y1="532.50" x2="264.69" y2="531.15" stroke="#5050ff" stroke-width="0.8"/>
<line x1="269.17" y1="532.50" x2="269.17" y2="531.48" stroke="#5050ff" stroke-width="0.8"/>
<line x1="273.65" y1="532.50" x2="273.65" y2="531.15" stroke="#5050ff" stroke-width="0.8"/>
<line x1="278.12" y1="532.50" x2="278.12" y2="531.15" stroke="#5050ff" stroke-width="0.8"/>
<line x1="282.60" y1="532.50" x2="282.60" y2="531.15" stroke="#5050ff" stroke-width="0.8"/>
<line x1="289.32" y1="532.50" x2="289.32" y2="530.81" stroke="#5050ff" stroke-width="0.8"/>
<line x1="292.00" y1="532.50" x2="292.00" y2="525.05" stroke="#6b6bff" stroke-width="0.9"/>
<line x1="293.79" y1="532.50" x2="293.79" y2="531.15" stroke="#5050ff" stroke-width="0.8"/>
<line x1="300.51" y1="532.50" x2="300.51" y2="531.48" stroke="#5050ff" stroke-width="0.8"/>
<line x1="307.22" y1="532.50" x2="307.22" y2="531.48" stroke="#5050ff" stroke-width="0.8"/>
<line x1="312.04" y1="532.50" x2="312.04" y2="503.51" stroke="#6b6bff" stroke-width="1.1"/>
<line x1="332.29" y1="532.50" x2="332.29" y2="497.48" stroke="#6b6bff" stroke-width="1.1"/>
<rect x="29.8" y="529.4" width="2.2" height="2.2" fill="#0000aa"/>
<text x="262.6" y="305.9" font-family="&quot;Liberation Sans&quot;, sans-serif" font-size="4.8" fill="#5e5e5e" text-anchor="middle">256.3</text>
<text x="74.4" y="337" font-family="&quot;Liberation Sans&quot;, sans-serif" font-size="4.8" fill="#5e5e5e" text-anchor="middle">88.1</text>
<text x="90.1" y="349.7" font-family="&quot;Liberation Sans&quot;, sans-serif" font-size="4.8" fill="#5e5e5e" text-anchor="middle">102.2</text>
<text x="54.2" y="453.5" font-family="&quot;Liberation Sans&quot;, sans-serif" font-size="4.8" fill="#5e5e5e" text-anchor="middle">70.0</text>
<text x="108.1" y="486.7" font-family="&quot;Liberation Sans&quot;, sans-serif" font-size="4.8" fill="#5e5e5e" text-anchor="middle">118.0</text>
<text x="95.0" y="499.3" font-family="&quot;Liberation Sans&quot;, sans-serif" font-size="4.8" fill="#5e5e5e" text-anchor="middle">106.0</text>
<text x="39.8" y="507.3" font-family="&quot;Liberation Sans&quot;, sans-serif" font-size="4.8" fill="#5e5e5e" text-anchor="middle">57.0</text>
<text x="55.7" y="514.3" font-family="&quot;Liberation Sans&quot;, sans-serif" font-size="4.8" fill="#5e5e5e" text-anchor="middle">71.2</text>
<text x="68.7" y="517.8" font-family="&quot;Liberation Sans&quot;, sans-serif" font-size="4.8" fill="#5e5e5e" text-anchor="middle">83.1</text>
<text x="82.2" y="517" font-family="&quot;Liberation Sans&quot;, sans-serif" font-size="4.8" fill="#5e5e5e" text-anchor="middle">95.1</text>
<text x="99.6" y="521.1" font-family="&quot;Liberation Sans&quot;, sans-serif" font-size="4.8" fill="#5e5e5e" text-anchor="middle">110.9</text>
<text x="87.6" y="526.2" font-family="&quot;Liberation Sans&quot;, sans-serif" font-size="4.8" fill="#5e5e5e" text-anchor="middle">99.9</text>
<text x="124.0" y="519.4" font-family="&quot;Liberation Sans&quot;, sans-serif" font-size="4.8" fill="#5e5e5e" text-anchor="middle">132.0</text>
<text x="139.7" y="520.4" font-family="&quot;Liberation Sans&quot;, sans-serif" font-size="4.8" fill="#5e5e5e" text-anchor="middle">146.3</text>
<text x="152.4" y="526.8" font-family="&quot;Liberation Sans&quot;, sans-serif" font-size="4.8" fill="#5e5e5e" text-anchor="middle">150.2</text>
<text x="169.3" y="528.3" font-family="&quot;Liberation Sans&quot;, sans-serif" font-size="4.8" fill="#5e5e5e" text-anchor="middle">165.1</text>
<text x="194.4" y="527.6" font-family="&quot;Liberation Sans&quot;, sans-serif" font-size="4.8" fill="#5e5e5e" text-anchor="middle">195.1</text>
<text x="213.5" y="517" font-family="&quot;Liberation Sans&quot;, sans-serif" font-size="4.8" fill="#5e5e5e" text-anchor="middle">212.4</text>
<text x="234.2" y="526" font-family="&quot;Liberation Sans&quot;, sans-serif" font-size="4.8" fill="#5e5e5e" text-anchor="middle">230.4</text>
<text x="251.0" y="526.3" font-family="&quot;Liberation Sans&quot;, sans-serif" font-size="4.8" fill="#5e5e5e" text-anchor="middle">238.2</text>
<text x="268.6" y="529.3" font-family="&quot;Liberation Sans&quot;, sans-serif" font-size="4.8" fill="#5e5e5e" text-anchor="middle">254.1</text>
<text x="291.7" y="522.7" font-family="&quot;Liberation Sans&quot;, sans-serif" font-size="4.8" fill="#5e5e5e" text-anchor="middle">282.4</text>
<text x="311.9" y="501.2" font-family="&quot;Liberation Sans&quot;, sans-serif" font-size="4.8" fill="#5e5e5e" text-anchor="middle">300.3</text>
<text x="332.5" y="493.7" font-family="&quot;Liberation Sans&quot;, sans-serif" font-size="4.8" fill="#5e5e5e" text-anchor="middle">318.4</text>
<text x="39.8" y="524.2" font-family="&quot;Liberation Sans&quot;, sans-serif" font-size="4.8" fill="#5e5e5e" text-anchor="middle">58.1</text>
<text x="49.6" y="523.7" font-family="&quot;Liberation Sans&quot;, sans-serif" font-size="4.8" fill="#5e5e5e" text-anchor="middle">67.8</text>
<path d="M144.40,526.90 L145.00,525.70 L146.00,525.30" fill="none" stroke="#5e5e5e" stroke-width="0.45"/>
<path d="M160.90,528.40 L161.50,527.20 L162.50,526.80" fill="none" stroke="#5e5e5e" stroke-width="0.45"/>
<path d="M242.80,526.40 L243.40,525.20 L244.40,524.80" fill="none" stroke="#5e5e5e" stroke-width="0.45"/>
<path d="M260.80,529.40 L261.40,528.20 L262.40,527.80" fill="none" stroke="#5e5e5e" stroke-width="0.45"/>
<line x1="33.2" y1="317.15" x2="73" y2="317.15" stroke="#2a2a2a" stroke-width="1.35" stroke-dasharray="3.8 3.3"/>
<line x1="77.25" y1="317.3" x2="199" y2="317.7" stroke="#2a2a2a" stroke-width="1.35" stroke-dasharray="4 2.75"/>
<line x1="203" y1="318.4" x2="332" y2="318.7" stroke="#2a2a2a" stroke-width="1.35" stroke-dasharray="3.9 3.1"/>
<polyline points="41.50,312.50 33.80,317.10 41.50,321.70" fill="none" stroke="#2a2a2a" stroke-width="1.3" stroke-linejoin="miter"/>
<polyline points="66.00,312.40 74.10,317.20 66.00,322.00" fill="none" stroke="#2a2a2a" stroke-width="1.3" stroke-linejoin="miter"/>
<polyline points="85.10,312.40 77.00,317.20 85.10,322.00" fill="none" stroke="#2a2a2a" stroke-width="1.3" stroke-linejoin="miter"/>
<polyline points="191.90,313.10 200.00,317.90 191.90,322.70" fill="none" stroke="#2a2a2a" stroke-width="1.3" stroke-linejoin="miter"/>
<polyline points="211.10,313.70 203.00,318.50 211.10,323.30" fill="none" stroke="#2a2a2a" stroke-width="1.3" stroke-linejoin="miter"/>
<polyline points="324.40,313.90 332.50,318.70 324.40,323.50" fill="none" stroke="#2a2a2a" stroke-width="1.3" stroke-linejoin="miter"/>
<line x1="75.1" y1="309.2" x2="75.1" y2="334" stroke="#2a2a2a" stroke-width="1.35" stroke-dasharray="3.2 3.3"/>
<line x1="201.0" y1="308.7" x2="201.0" y2="532" stroke="#2a2a2a" stroke-width="1.35" stroke-dasharray="4.2 2.65"/>
<line x1="332.8" y1="308.5" x2="332.8" y2="491" stroke="#2a2a2a" stroke-width="1.35" stroke-dasharray="4.3 2.57"/>
<line x1="106.8" y1="449" x2="106.8" y2="529" stroke="#2a2a2a" stroke-width="1.35" stroke-dasharray="4.2 2.65"/>
<line x1="233.8" y1="510.4" x2="233.8" y2="521" stroke="#2a2a2a" stroke-width="1.35" stroke-dasharray="4.2 2.65"/>
<line x1="83.6" y1="336.8" x2="76.2" y2="345.3" stroke="#2a2a2a" stroke-width="1.2" stroke-dasharray="3 2.5"/>
<line x1="263.7" y1="396.6" x2="266.8" y2="394.2" stroke="#2a2a2a" stroke-width="1.2"/>
<line x1="334" y1="350.6" x2="336.8" y2="348.4" stroke="#2a2a2a" stroke-width="1.2"/>
<text x="50.3" y="311" font-family="&quot;Liberation Serif&quot;, serif" font-size="13.9" fill="#111" stroke="#111" stroke-width="0.2">S</text>
<text x="129.2" y="311.6" font-family="&quot;Liberation Serif&quot;, serif" font-size="13.9" fill="#111" stroke="#111" stroke-width="0.2">N</text>
<text x="272.4" y="312" font-family="&quot;Liberation Serif&quot;, serif" font-size="13.2" fill="#111" stroke="#111" stroke-width="0.2">V</text>
<text x="435.1" y="313.2" font-family="&quot;Liberation Serif&quot;, serif" font-size="13.1" fill="#111" stroke="#111" stroke-width="0.2">(D)</text>
<text transform="translate(84.6,336.3) scale(0.948,1)" font-family="&quot;Liberation Serif&quot;, serif" font-size="7.0" fill="#151515" stroke="#151515" stroke-width="0.12" text-rendering="geometricPrecision">b<tspan font-size="4.20" dy="1.2">1</tspan><tspan dy="-1.2">, [S-OH]=88.1 m/z</tspan></text>
<text transform="translate(268.4,394.4) scale(0.972,1)" font-family="&quot;Liberation Serif&quot;, serif" font-size="7.0" fill="#151515" stroke="#151515" stroke-width="0.12" text-rendering="geometricPrecision">a<tspan font-size="4.20" dy="1.2">1</tspan><tspan dy="-1.2">, [RC-COOH]=231.9 m/z</tspan></text>
<text transform="translate(106.8,442.3) scale(0.975,1)" font-family="&quot;Liberation Serif&quot;, serif" font-size="7.0" fill="#151515" stroke="#151515" stroke-width="0.12" text-rendering="geometricPrecision">y<tspan font-size="4.20" dy="1.2">1</tspan><tspan dy="-1.2">, [V-H]=116.0 m/z</tspan></text>
<text transform="translate(234.0,506.3) scale(0.988,1)" font-family="&quot;Liberation Serif&quot;, serif" font-size="7.0" fill="#151515" stroke="#151515" stroke-width="0.12" text-rendering="geometricPrecision">y<tspan font-size="4.20" dy="1.2">3</tspan><tspan dy="-1.2">, [NV-H]=230.0 m/z</tspan></text>
<text transform="translate(338.8,347.5) scale(0.985,1)" font-family="&quot;Liberation Serif&quot;, serif" font-size="10.9" fill="#151515" stroke="#151515" stroke-width="0.12" text-rendering="geometricPrecision">SNV=318.4 m/z</text>
<path d="M224.60,190.60 L226.40,189.30" fill="none" stroke="#8a8a8a" stroke-width="0.8"/>
<path d="M426.90,26.10 L428.70,24.80" fill="none" stroke="#8a8a8a" stroke-width="0.8"/>
<path d="M61.50,310.10 L63.30,308.80" fill="none" stroke="#8a8a8a" stroke-width="0.8"/>
<path d="M143.50,310.60 L145.30,309.30" fill="none" stroke="#8a8a8a" stroke-width="0.8"/>
<path d="M285.40,311.00 L287.20,309.70" fill="none" stroke="#8a8a8a" stroke-width="0.8"/>
<path d="M456.60,311.60 L458.40,310.30" fill="none" stroke="#8a8a8a" stroke-width="0.8"/>
<path d="M144.80,336.60 L146.60,335.30" fill="none" stroke="#8a8a8a" stroke-width="0.8"/>
<path d="M347.60,393.60 L349.40,392.30" fill="none" stroke="#8a8a8a" stroke-width="0.8"/>
<path d="M167.60,441.60 L169.40,440.30" fill="none" stroke="#8a8a8a" stroke-width="0.8"/>
<path d="M300.60,505.60 L302.40,504.30" fill="none" stroke="#8a8a8a" stroke-width="0.8"/>
<path d="M413.40,348.10 L415.20,346.80" fill="none" stroke="#8a8a8a" stroke-width="0.8"/>
<path d="M434.00,545.20 L435.80,543.90" fill="none" stroke="#8a8a8a" stroke-width="0.8"/>
</svg>
</body></html>
